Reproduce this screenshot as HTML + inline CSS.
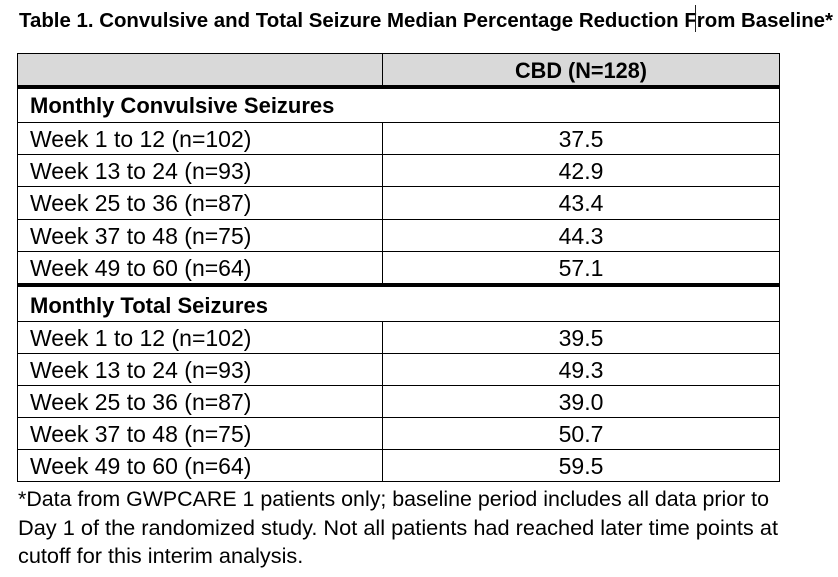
<!DOCTYPE html>
<html>
<head>
<meta charset="utf-8">
<style>
  html, body { margin: 0; padding: 0; background: #ffffff; }
  body { width: 838px; height: 577px; overflow: hidden; }
  svg { display: block; }
  text { font-family: "Liberation Sans", Arial, sans-serif; fill: #000; }
  .b { font-weight: bold; }
</style>
</head>
<body>
<svg width="838" height="577" viewBox="0 0 838 577" xmlns="http://www.w3.org/2000/svg">
  <rect x="0" y="0" width="838" height="577" fill="#ffffff"/>

  <!-- Title -->
  <text class="b" x="19" y="27" font-size="20" textLength="814" lengthAdjust="spacingAndGlyphs">Table 1. Convulsive and Total Seizure Median Percentage Reduction From Baseline*</text>
  <!-- text cursor -->
  <rect x="695" y="5" width="1" height="27" fill="#222"/>

  <!-- Header fill -->
  <rect x="18" y="54" width="761" height="31" fill="#d9d9d9"/>

  <!-- Horizontal lines -->
  <g fill="#000">
    <rect x="17" y="53" width="763" height="1"/>
    <rect x="17" y="85" width="763" height="4"/>
    <rect x="17" y="122" width="763" height="1"/>
    <rect x="17" y="154" width="763" height="1"/>
    <rect x="17" y="186" width="763" height="1"/>
    <rect x="17" y="219" width="763" height="1"/>
    <rect x="17" y="251" width="763" height="1"/>
    <rect x="17" y="283" width="763" height="4"/>
    <rect x="17" y="321" width="763" height="1"/>
    <rect x="17" y="353" width="763" height="1"/>
    <rect x="17" y="385" width="763" height="1"/>
    <rect x="17" y="417" width="763" height="1"/>
    <rect x="17" y="449" width="763" height="1"/>
    <rect x="17" y="481" width="763" height="1"/>

    <!-- Vertical lines -->
    <rect x="17" y="53" width="1" height="429"/>
    <rect x="779" y="53" width="1" height="429"/>
    <rect x="382" y="53" width="1" height="32"/>
    <rect x="382" y="122" width="1" height="161"/>
    <rect x="382" y="321" width="1" height="161"/>
  </g>

  <!-- Header -->
  <text class="b" x="581" y="78" font-size="22" text-anchor="middle" textLength="132" lengthAdjust="spacingAndGlyphs">CBD (N=128)</text>

  <!-- Section 1 -->
  <text class="b" x="30" y="113" font-size="22">Monthly Convulsive Seizures</text>
  <g font-size="23">
    <text x="30" y="147">Week 1 to 12 (n=102)</text>
    <text x="30" y="179">Week 13 to 24 (n=93)</text>
    <text x="30" y="211">Week 25 to 36 (n=87)</text>
    <text x="30" y="244">Week 37 to 48 (n=75)</text>
    <text x="30" y="276">Week 49 to 60 (n=64)</text>
  </g>
  <g font-size="23" text-anchor="middle">
    <text x="581" y="147">37.5</text>
    <text x="581" y="179">42.9</text>
    <text x="581" y="211">43.4</text>
    <text x="581" y="244">44.3</text>
    <text x="581" y="276">57.1</text>
  </g>

  <!-- Section 2 -->
  <text class="b" x="30" y="313" font-size="22">Monthly Total Seizures</text>
  <g font-size="23">
    <text x="30" y="346">Week 1 to 12 (n=102)</text>
    <text x="30" y="378">Week 13 to 24 (n=93)</text>
    <text x="30" y="410">Week 25 to 36 (n=87)</text>
    <text x="30" y="442">Week 37 to 48 (n=75)</text>
    <text x="30" y="474">Week 49 to 60 (n=64)</text>
  </g>
  <g font-size="23" text-anchor="middle">
    <text x="581" y="346">39.5</text>
    <text x="581" y="378">49.3</text>
    <text x="581" y="410">39.0</text>
    <text x="581" y="442">50.7</text>
    <text x="581" y="474">59.5</text>
  </g>

  <!-- Footnote -->
  <g font-size="21.7">
    <text x="18" y="506" textLength="751" lengthAdjust="spacingAndGlyphs">*Data from GWPCARE 1 patients only; baseline period includes all data prior to</text>
    <text x="18" y="535" textLength="760" lengthAdjust="spacingAndGlyphs">Day 1 of the randomized study. Not all patients had reached later time points at</text>
    <text x="18" y="563">cutoff for this interim analysis.</text>
  </g>
</svg>
</body>
</html>
